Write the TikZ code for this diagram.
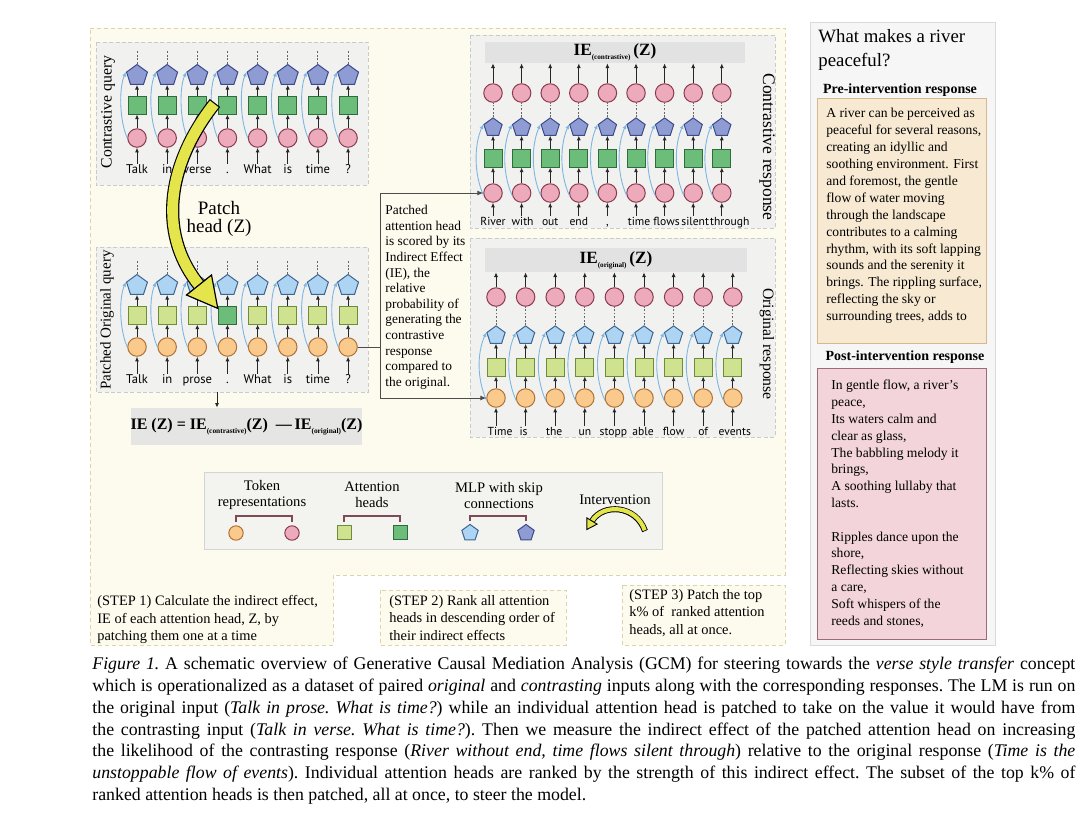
\documentclass[tikz,border=0pt]{standalone}
\usepackage{fontspec}
\setmainfont{Liberation Serif}
\newfontfamily\tokfont{PT Sans}
\usetikzlibrary{shapes.geometric,arrows.meta}
\definecolor{cream}{HTML}{FDFBEE}
\definecolor{creamline}{HTML}{DDD4A8}
\definecolor{panelF}{HTML}{F1F2F0}
\definecolor{panelL}{HTML}{C7CBCB}
\definecolor{barF}{HTML}{E2E2E2}
\definecolor{pinkF}{HTML}{EDAABA}
\definecolor{pinkD}{HTML}{8C3A52}
\definecolor{orangeF}{HTML}{F9CA8C}
\definecolor{orangeD}{HTML}{B07236}
\definecolor{gdF}{HTML}{6CBD79}
\definecolor{gdD}{HTML}{2F6B3D}
\definecolor{glF}{HTML}{CFE290}
\definecolor{glD}{HTML}{6F8C3A}
\definecolor{bdF}{HTML}{8F9CD3}
\definecolor{bdD}{HTML}{3C4A8A}
\definecolor{blF}{HTML}{ADD5F3}
\definecolor{blD}{HTML}{3E6590}
\definecolor{skipc}{HTML}{7DB6E2}
\definecolor{yel}{HTML}{E4E54B}
\definecolor{rpF}{HTML}{F6F6F6}
\definecolor{rpL}{HTML}{DADADA}
\definecolor{preF}{HTML}{F8EAD2}
\definecolor{preL}{HTML}{D5B88C}
\definecolor{postF}{HTML}{F2D4DA}
\definecolor{postL}{HTML}{9C6B78}
\definecolor{brk}{HTML}{7E4A58}
\definecolor{legF}{HTML}{F3F3F0}
\definecolor{legL}{HTML}{D4D4D2}
\definecolor{formF}{HTML}{E5E5E3}
\newcommand\cma{,}
\begin{document}
\begin{tikzpicture}[x=0.5pt,y=-0.5pt,
  arr/.style={draw=black!85, line width=0.4pt, -{Latex[length=2.3pt,width=2pt]}},
  conn/.style={draw=black!70, line width=0.5pt},
  conna/.style={conn, -{Latex[length=3pt,width=2.6pt]}},
  skiparr/.style={draw=skipc, line width=0.45pt, -{Latex[length=2.3pt,width=2pt]}},
  dotv/.style={draw=black!60, line width=0.45pt, dash pattern=on 0.9pt off 0.9pt},
  tokp/.style={circle, draw=pinkD, fill=pinkF, line width=0.5pt, minimum size=9.25pt, inner sep=0pt},
  toko/.style={circle, draw=orangeD, fill=orangeF, line width=0.5pt, minimum size=9.25pt, inner sep=0pt},
  attd/.style={rectangle, draw=gdD, fill=gdF, line width=0.5pt, minimum size=9pt, inner sep=0pt},
  attl/.style={rectangle, draw=glD, fill=glF, line width=0.5pt, minimum size=9pt, inner sep=0pt},
  mlpd/.style={regular polygon, regular polygon sides=5, draw=bdD, fill=bdF, line width=0.5pt, minimum size=11pt, inner sep=0pt},
  mlpl/.style={regular polygon, regular polygon sides=5, draw=blD, fill=blF, line width=0.5pt, minimum size=11pt, inner sep=0pt},
  smallpoly/.style={minimum size=9.6pt},
  word/.style={font=\tokfont\fontsize{6.3}{7}\selectfont, inner sep=0pt, text height=4.6pt, text depth=1.3pt},
  rword/.style={font=\tokfont\fontsize{5.8}{7}\selectfont, inner sep=0pt, text height=4.4pt, text depth=1.2pt},
  panel/.style={fill=panelF, draw=panelL, line width=0.4pt, dash pattern=on 2pt off 1.2pt},
  steparea/.style={fill=cream, draw=creamline, line width=0.5pt, dash pattern=on 2pt off 1.5pt},
  bar/.style={fill=barF, inner sep=0pt},
  bracketline/.style={draw=brk, line width=0.6pt},
  blocktext/.style={anchor=north west, align=left, inner sep=0pt},
]
\useasboundingbox (0,0) rectangle (1080,821);
\fill[white] (0,0) rectangle (1080,821);

% ---------- main cream area ----------
\path[steparea] (90,28) -- (785,28) -- (785,575) -- (333,575) -- (333,645) -- (90,645) -- cycle;
\path[steparea] (380,590) rectangle (566,645);
\path[steparea] (622,585) rectangle (785,645);

% ---------- panels ----------
\path[panel] (96,42) rectangle (368,185);
\path[panel] (96,247) rectangle (368,392);
\path[panel] (470,35) rectangle (775,228);
\path[panel] (470,238) rectangle (775,437);

% ---------- labels ----------
\node[rotate=90, inner sep=0pt, font=\fontsize{7.9}{8}\selectfont] (lcq) at (108,112) {Contrastive query};
\node[rotate=90, inner sep=0pt, font=\fontsize{7.5}{8}\selectfont] (lpo) at (107,320) {Patched Original query};
\node[rotate=-90, inner sep=0pt, font=\fontsize{8.8}{9}\selectfont] (lcr) at (767,147) {Contrastive response};
\node[rotate=-90, inner sep=0pt, font=\fontsize{7.9}{8}\selectfont] (lor) at (767,344) {Original response};
\node[align=center, inner sep=0pt, font=\fontsize{9.5}{9}\selectfont] (patchlbl) at (219,219) {Patch\\head (Z)};

% ---------- bars ----------
\node[bar, minimum width=130pt, minimum height=10.5pt] (crbar) at (615,52.5)
  {\fontsize{8.6}{9}\selectfont\bfseries IE\raisebox{-2pt}{\fontsize{3.6}{4}\selectfont (contrastive)}\,(Z)};
\node[bar, minimum width=131pt, minimum height=12pt] (orbar) at (616,260)
  {\fontsize{8.6}{9}\selectfont\bfseries IE\raisebox{-2pt}{\fontsize{3.6}{4}\selectfont (original)}\,(Z)};

% ---------- contrastive query ----------
\foreach \w [count=\k] in {Talk,in,verse,.,What,is,time,?}{
  \pgfmathsetmacro{\xx}{137+30.15*(\k-1)}
  \node[word] (cqw\k) at (\xx,170) {\w};
  \node[tokp] (cqc\k) at (\xx,138) {};
  \node[attd] (cqs\k) at (\xx,105) {};
  \node[mlpd] (cqp\k) at (\xx,75.5) {};
  \coordinate (cqd\k) at (\xx,51);
  \draw[arr] (cqw\k) -- (cqc\k);
  \draw[arr] (cqc\k) -- (cqs\k);
  \draw[arr] (cqs\k) -- (cqp\k);
  \draw[dotv] (cqp\k) -- (cqd\k);
  \draw[skiparr] (cqc\k.west) .. controls +(-8,-18) and +(-7,16) .. (cqp\k.162);
}

% ---------- patched original query ----------
\foreach \w [count=\k] in {Talk,in,prose,.,What,is,time,?}{
  \pgfmathsetmacro{\xx}{137+30.15*(\k-1)}
  \node[word] (pow\k) at (\xx,380) {\w};
  \node[toko] (poc\k) at (\xx,347) {};
  \ifnum\k=4
    \node[attd] (pos\k) at (\xx,315) {};
  \else
    \node[attl] (pos\k) at (\xx,315) {};
  \fi
  \node[mlpl] (pop\k) at (\xx,285.5) {};
  \coordinate (pod\k) at (\xx,261);
  \draw[arr] (pow\k) -- (poc\k);
  \draw[arr] (poc\k) -- (pos\k);
  \draw[arr] (pos\k) -- (pop\k);
  \draw[dotv] (pop\k) -- (pod\k);
  \draw[skiparr] (poc\k.west) .. controls +(-8,-18) and +(-7,16) .. (pop\k.162);
}

% ---------- contrastive response ----------
\foreach \w/\dx [count=\k] in {River/0,with/1,out/0,end/0,\cma/0,time/3,flows/2,silent/2,through/8}{
  \pgfmathsetmacro{\xx}{493+28.6*(\k-1)}
  \pgfmathsetmacro{\wx}{\xx+\dx}
  \node[rword] (crw\k) at (\wx,222) {\w};
  \node[tokp] (crb\k) at (\xx,193) {};
  \node[attd] (crs\k) at (\xx,158) {};
  \node[mlpd,smallpoly] (crp\k) at (\xx,127.5) {};
  \node[tokp] (crt\k) at (\xx,93) {};
  \draw[arr] (crb\k.south |- crw\k.north) -- (crb\k);
  \draw[arr] (crb\k) -- (crs\k);
  \draw[arr] (crs\k) -- (crp\k);
  \draw[dotv] (crp\k) -- (crt\k);
  \draw[arr] (crt\k) -- (crt\k.north |- crbar.south);
  \draw[skiparr] (crb\k.195) .. controls +(-10,-22) and +(-9,20) .. (crp\k.162);
}

% ---------- original response ----------
\foreach \w/\dx [count=\k] in {Time/4,is/-2,the/-1,un/0,stopp/-1,able/-1,flow/0,of/0,events/2}{
  \pgfmathsetmacro{\xx}{496+29.6*(\k-1)}
  \pgfmathsetmacro{\wx}{\xx+\dx}
  \node[rword] (orw\k) at (\wx,432) {\w};
  \node[toko] (orb\k) at (\xx,398) {};
  \node[attl] (ors\k) at (\xx,367) {};
  \node[mlpl,smallpoly] (orp\k) at (\xx,335.5) {};
  \node[tokp] (ort\k) at (\xx,297) {};
  \draw[arr] (orb\k.south |- orw\k.north) -- (orb\k);
  \draw[arr] (orb\k) -- (ors\k);
  \draw[arr] (ors\k) -- (orp\k);
  \draw[dotv] (orp\k) -- (ort\k);
  \draw[arr] (ort\k) -- (ort\k.north |- orbar.south);
  \draw[skiparr] (orb\k.195) .. controls +(-10,-22) and +(-9,20) .. (orp\k.162);
}

% ---------- bracket connector and annotation ----------
\coordinate (jn) at (380,347);
\draw[conn] (poc8.east) -- (jn);
\draw[conna] (jn) |- (crb1.west);
\draw[conna] (jn) |- (orb1.west);
\node[blocktext, font=\fontsize{6.7}{7.8}\selectfont] (annot) at (385,205)
  {Patched\\attention head\\is scored by its\\Indirect Effect\\(IE), the\\relative\\probability of\\generating the\\contrastive\\response\\compared to\\the original.};

% ---------- formula ----------
\node[fill=formF, inner sep=0pt, minimum width=113.5pt, minimum height=18.5pt] (formula) at (246.5,426.5)
  {\fontsize{8}{9}\selectfont\bfseries IE (Z) = IE\raisebox{-2.1pt}{\fontsize{3.7}{4}\selectfont (contrastive)}(Z)\ \ ---\,IE\raisebox{-2.1pt}{\fontsize{3.7}{4}\selectfont (original)}(Z)};
\coordinate (fa) at (217,392);
\draw[arr] (fa) -- (fa |- formula.north);

% ---------- yellow intervention arrow ----------
\coordinate (ya0) at (215,103);
\coordinate (yaB) at (199,285);
\draw[black, line width=6.6pt] (ya0) .. controls (170,160) and (155,230) .. (yaB);
\draw[yel, line width=5.4pt, shorten <=0.6pt] (ya0) .. controls (170,160) and (155,230) .. (yaB);
\filldraw[fill=yel, draw=black, line width=0.6pt, line join=miter] (211.5,275) -- (217.8,308.4) -- (186.5,295) -- cycle;

% ---------- legend ----------
\node[draw=legL, fill=legF, line width=0.5pt, minimum width=229pt, minimum height=38.5pt, inner sep=0pt] (legend) at (433,510.5) {};
\node[align=center, inner sep=0pt, font=\fontsize{7.3}{8}\selectfont] (lgt1) at (262,495) {Token\\representations};
\node[align=center, inner sep=0pt, font=\fontsize{7.3}{8}\selectfont] (lgt2) at (372,495) {Attention\\heads};
\node[align=center, inner sep=0pt, font=\fontsize{7.3}{8}\selectfont] (lgt3) at (499,495) {MLP with skip\\connections};
\node[inner sep=0pt, font=\fontsize{7.3}{8}\selectfont] (lgt4) at (615,500) {Intervention};
\node[toko, minimum size=7.2pt] (lgo) at (236,533) {};
\node[tokp, minimum size=7.2pt] (lgp) at (292,533) {};
\node[attl, minimum size=7pt] (lga) at (344,532) {};
\node[attd, minimum size=7pt] (lgb) at (400,532) {};
\node[mlpl, minimum size=8.6pt] (lgc) at (470,533) {};
\node[mlpd, minimum size=8.6pt] (lgd) at (526,533) {};
\coordinate (bt1) at (264,516);
\coordinate (bt2) at (372,516);
\coordinate (bt3) at (498,516);
\draw[bracketline, shorten <=1.5pt, shorten >=1.5pt] (lgo.north) |- (bt1) -| (lgp.north);
\draw[bracketline, shorten <=1.5pt, shorten >=1.5pt] (lga.north) |- (bt2) -| (lgb.north);
\draw[bracketline, shorten <=1.5pt, shorten >=1.5pt] (lgc.north) |- (bt3) -| (lgd.north);
\coordinate (la0) at (645,531);
\coordinate (laB) at (592,521);
\draw[black, line width=3pt] (la0) .. controls (636,505) and (603,503) .. (laB);
\draw[yel, line width=2.1pt, shorten <=0.4pt] (la0) .. controls (636,505) and (603,503) .. (laB);
\filldraw[fill=yel, draw=black, line width=0.45pt, line join=miter] (597.1,524.1) -- (586.8,529.5) -- (586.9,517.9) -- cycle;

% ---------- steps ----------
\node[blocktext, font=\fontsize{7.2}{8.75}\selectfont] (step1) at (97,595)
  {(STEP 1) Calculate the indirect effect,\\IE of each attention head, Z, by\\patching them one at a time};
\node[blocktext, font=\fontsize{7.2}{8.75}\selectfont] (step2) at (389,595)
  {(STEP 2) Rank all attention\\heads in descending order of\\their indirect effects};
\node[blocktext, font=\fontsize{7.2}{8.75}\selectfont] (step3) at (629,589)
  {(STEP 3) Patch the top\\k\% of\ \ ranked attention\\heads, all at once.};

% ---------- right panel ----------
\node[draw=rpL, fill=rpF, line width=0.5pt, minimum width=92.5pt, minimum height=311.5pt, inner sep=0pt] (rpanel) at (902.5,333.5) {};
\node[blocktext, font=\fontsize{9.4}{12}\selectfont] (rtitle) at (818,29) {What makes a river\\peaceful?};
\node[inner sep=0pt, font=\fontsize{7}{8}\selectfont\bfseries] (prehead) at (900,90) {Pre-intervention response};
\node[draw=preL, fill=preF, line width=0.5pt, minimum width=84.5pt, minimum height=122.5pt, inner sep=0pt] (prebox) at (901.5,220.5) {};
\node[blocktext, font=\fontsize{6.8}{8.45}\selectfont] (pretext) at (826,108)
  {A river can be perceived as\\peaceful for several reasons,\\creating an idyllic and\\soothing environment. First\\and foremost, the gentle\\flow of water moving\\through the landscape\\contributes to a calming\\rhythm, with its soft lapping\\sounds and the serenity it\\brings. The rippling surface,\\reflecting the sky or\\surrounding trees, adds to};
\node[inner sep=0pt, font=\fontsize{7}{8}\selectfont\bfseries] (posthead) at (905,357) {Post-intervention response};
\node[draw=postL, fill=postF, line width=0.5pt, minimum width=84.5pt, minimum height=135.5pt, inner sep=0pt] (postbox) at (901.5,503.5) {};
\node[blocktext, font=\fontsize{6.8}{8.4}\selectfont] (posttext) at (831,380)
  {In gentle flow, a river's\\peace,\\Its waters calm and\\clear as glass,\\The babbling melody it\\brings,\\A soothing lullaby that\\lasts.\\~\\Ripples dance upon the\\shore,\\Reflecting skies without\\a care,\\Soft whispers of the\\reeds and stones,};

% ---------- caption ----------
\node[blocktext, font=\fontsize{8.9}{10.85}\selectfont\frenchspacing] (caption) at (92,657) {%
\makebox[491.5pt][s]{\textit{Figure 1.} A schematic overview of Generative Causal Mediation Analysis (GCM) for steering towards the \textit{verse style transfer} concept}\\
\makebox[491.5pt][s]{which is operationalized as a dataset of paired \textit{original} and \textit{contrasting} inputs along with the corresponding responses. The LM is run on}\\
\makebox[491.5pt][s]{the original input (\textit{Talk in prose. What is time?}) while an individual attention head is patched to take on the value it would have from}\\
\makebox[491.5pt][s]{the contrasting input (\textit{Talk in verse. What is time?}). Then we measure the indirect effect of the patched attention head on increasing}\\
\makebox[491.5pt][s]{the likelihood of the contrasting response (\textit{River without end, time flows silent through}) relative to the original response (\textit{Time is the}}\\
\makebox[491.5pt][s]{\textit{unstoppable flow of events}). Individual attention heads are ranked by the strength of this indirect effect. The subset of the top k\% of}\\
ranked attention heads is then patched, all at once, to steer the model.};
\end{tikzpicture}
\end{document}
